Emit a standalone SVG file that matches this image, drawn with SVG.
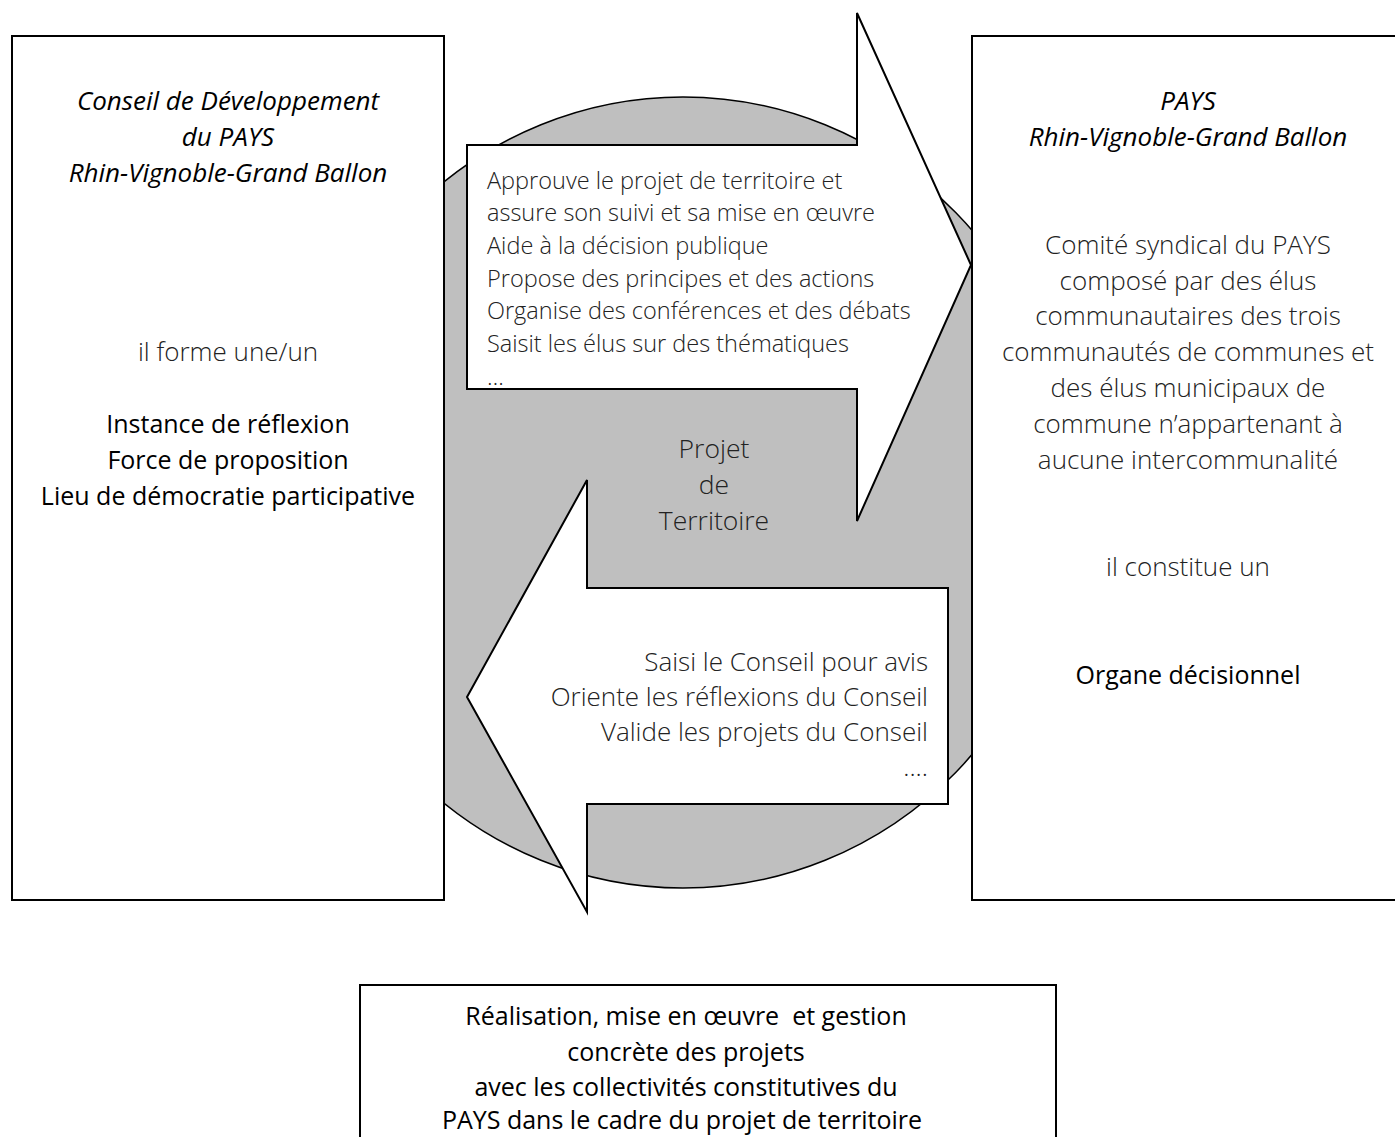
<svg xmlns="http://www.w3.org/2000/svg" width="1395" height="1137" viewBox="0 0 1395 1137">
<style>
.box{fill:#fff;stroke:#000;stroke-width:2}
.arrow{fill:#fff;stroke:#000;stroke-width:2;stroke-linejoin:miter}
.disc{fill:#bfbfbf;stroke:#000;stroke-width:1.5}
text{font-family:"Open Sans",Lato,"Liberation Sans",sans-serif;fill:#000}
.it{font-style:italic;font-size:26px;text-anchor:middle}
.lt{font-weight:300;font-size:26px;text-anchor:middle;fill:#222}
.pt{font-weight:300;font-size:26.5px;text-anchor:middle;fill:#222}
.rg{font-size:25px;text-anchor:middle}
.bt{font-size:25px;text-anchor:middle}
.ar{font-weight:300;font-size:23.5px;fill:#222}
.arr{font-weight:300;font-size:26px;fill:#222;text-anchor:end}
</style>
<rect width="1395" height="1137" fill="#fff"/>
<g id="projet">
<ellipse class="disc" cx="683" cy="492.5" rx="386" ry="395.5"/>
<text class="pt" x="714" y="458">Projet</text>
<text class="pt" x="714" y="494">de</text>
<text class="pt" x="714" y="530">Territoire</text>
</g>
<g id="connectors">
<g id="arrow-right">
<polygon class="arrow" points="467,145 857,145 857,13 971,265 857,521 857,389 467,389"/>
<text class="ar" x="487" y="189">Approuve le projet de territoire et</text>
<text class="ar" x="487" y="221">assure son suivi et sa mise en œuvre</text>
<text class="ar" x="487" y="254">Aide à la décision publique</text>
<text class="ar" x="487" y="287">Propose des principes et des actions</text>
<text class="ar" x="487" y="319">Organise des conférences et des débats</text>
<text class="ar" x="487" y="352">Saisit les élus sur des thématiques</text>
<text class="ar" x="487" y="385">…</text>
</g>
<g id="arrow-left">
<polygon class="arrow" points="948,588 587,588 587,480 467,697 587,912 587,804 948,804"/>
<text class="arr" x="928" y="671">Saisi le Conseil pour avis</text>
<text class="arr" x="928" y="706">Oriente les réflexions du Conseil</text>
<text class="arr" x="928" y="741">Valide les projets du Conseil</text>
<text class="arr" x="928" y="776">....</text>
</g>
</g>
<g id="conseil">
<rect class="box" x="12" y="36" width="432" height="864"/>
<text class="it" x="228" y="110">Conseil de Développement</text>
<text class="it" x="228" y="146">du PAYS</text>
<text class="it" x="228" y="182">Rhin-Vignoble-Grand Ballon</text>
<text class="lt" x="228" y="361">il forme une/un</text>
<text class="rg" x="228" y="433">Instance de réflexion</text>
<text class="rg" x="228" y="469">Force de proposition</text>
<text class="rg" x="228" y="505">Lieu de démocratie participative</text>
</g>
<g id="pays">
<rect class="box" x="972" y="36" width="440" height="864"/>
<text class="it" x="1188" y="110">PAYS</text>
<text class="it" x="1188" y="146">Rhin-Vignoble-Grand Ballon</text>
<text class="lt" x="1188" y="254">Comité syndical du PAYS</text>
<text class="lt" x="1188" y="290">composé par des élus</text>
<text class="lt" x="1188" y="325">communautaires des trois</text>
<text class="lt" x="1188" y="361">communautés de communes et</text>
<text class="lt" x="1188" y="397">des élus municipaux de</text>
<text class="lt" x="1188" y="433">commune n’appartenant à</text>
<text class="lt" x="1188" y="469">aucune intercommunalité</text>
<text class="lt" x="1188" y="576">il constitue un</text>
<text class="rg" x="1188" y="684">Organe décisionnel</text>
</g>
<g id="realisation">
<rect class="box" x="360" y="985" width="696" height="170"/>
<text class="bt" x="686" y="1025" xml:space="preserve">Réalisation, mise en œuvre  et gestion</text>
<text class="bt" x="686" y="1061">concrète des projets</text>
<text class="bt" x="686" y="1096">avec les collectivités constitutives du</text>
<text class="bt" x="682" y="1129">PAYS dans le cadre du projet de territoire</text>
</g>
</svg>
